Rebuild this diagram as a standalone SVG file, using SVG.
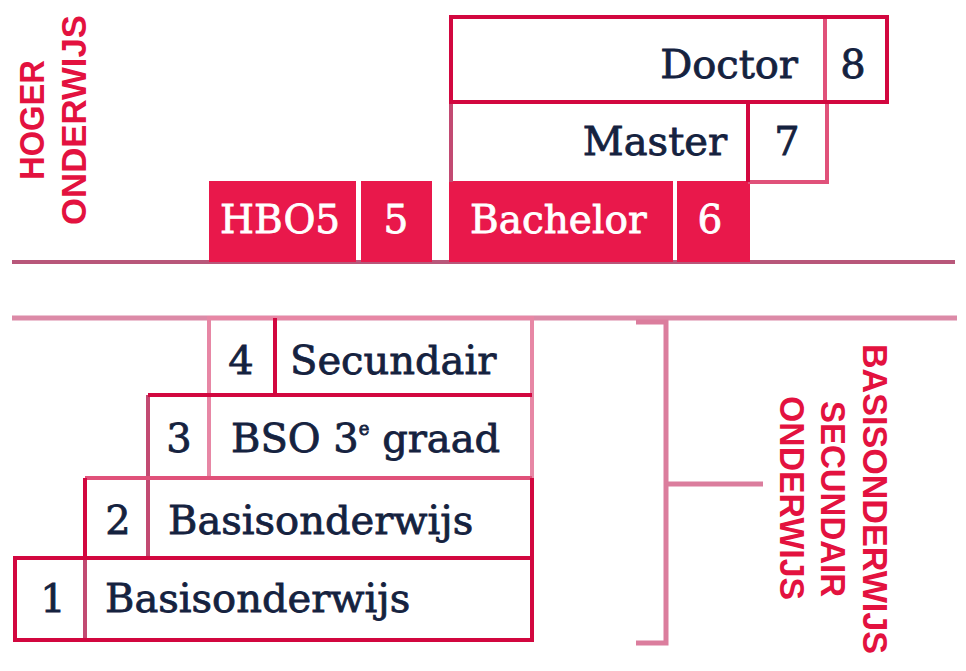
<svg xmlns="http://www.w3.org/2000/svg" width="966" height="671" viewBox="0 0 966 671">
<style>
.s{fill:none;stroke:#d2073f;stroke-width:4}
.m{fill:none;stroke:#e0517a;stroke-width:4}
.u{fill:none;stroke:#c24a72;stroke-width:4}
.p{fill:none;stroke:#e787a5;stroke-width:4}
.f{fill:#e9184b}
.t{font-family:"DejaVu Serif",serif;font-size:40px;fill:#15223f;stroke:#15223f;stroke-width:0.8}
.w{font-family:"DejaVu Serif",serif;font-size:39px;fill:#ffffff;stroke:#ffffff;stroke-width:0.8}
.v{font-family:"Liberation Sans",Arial,sans-serif;font-weight:bold;font-size:35px;fill:#e3123f}
</style>
<rect width="966" height="671" fill="#ffffff"/>
<g id="connectors">
<line x1="12" y1="262" x2="955" y2="262" stroke="#b8577a" stroke-width="4"/>
<line x1="12" y1="318" x2="957" y2="318" stroke="#dc8aa7" stroke-width="5"/>
<path d="M636,322 H666 V643 H636 M666,484 H763" fill="none" stroke="#db7d9d" stroke-width="5"/>
</g>
<g id="label-hoger">
<text class="v" transform="translate(44,120) rotate(-90)" text-anchor="middle" textLength="120" lengthAdjust="spacingAndGlyphs">HOGER</text>
<text class="v" transform="translate(86,120) rotate(-90)" text-anchor="middle" textLength="210" lengthAdjust="spacingAndGlyphs">ONDERWIJS</text>
</g>
<g id="label-basis">
<text class="v" transform="translate(863,499) rotate(90)" text-anchor="middle" textLength="310" lengthAdjust="spacingAndGlyphs">BASISONDERWIJS</text>
<text class="v" transform="translate(821,499) rotate(90)" text-anchor="middle" textLength="196" lengthAdjust="spacingAndGlyphs">SECUNDAIR</text>
<text class="v" transform="translate(780,498) rotate(90)" text-anchor="middle" textLength="204" lengthAdjust="spacingAndGlyphs">ONDERWIJS</text>
</g>
<g id="node-hbo5">
<rect class="f" x="209" y="181" width="147" height="81"/>
<text class="w" x="220" y="233">HBO5</text>
</g>
<g id="node-5">
<rect class="f" x="361" y="181" width="71" height="81"/>
<text class="w" x="396" y="233" text-anchor="middle">5</text>
</g>
<g id="node-bachelor">
<rect class="f" x="449" y="181" width="224" height="81"/>
<text class="w" x="470" y="233">Bachelor</text>
</g>
<g id="node-6">
<rect class="f" x="677" y="181" width="73" height="81"/>
<text class="w" x="710" y="233" text-anchor="middle">6</text>
</g>
<g id="node-master">
<line class="u" x1="451" y1="102" x2="451" y2="182"/>
<line class="m" x1="748" y1="182" x2="827" y2="182"/>
<line class="m" x1="827" y1="102" x2="827" y2="184"/>
<line class="s" x1="748" y1="102" x2="748" y2="182"/>
<text class="t" x="727" y="155" text-anchor="end">Master</text>
<text class="t" x="787" y="155" text-anchor="middle">7</text>
</g>
<g id="node-doctor">
<line class="m" x1="825" y1="17" x2="825" y2="102"/>
<rect class="s" x="451" y="17" width="436" height="85"/>
<text class="t" x="798" y="78" text-anchor="end">Doctor</text>
<text class="t" x="853" y="78" text-anchor="middle">8</text>
</g>
<g id="node-4">
<rect class="p" x="209" y="318" width="323" height="77"/>
<line class="s" x1="275" y1="318" x2="275" y2="395"/>
<text class="t" x="241" y="374" text-anchor="middle">4</text>
<text class="t" x="290" y="374">Secundair</text>
</g>
<g id="node-3">
<path class="u" d="M148,478 V395"/>
<path class="p" d="M532,395 V478"/>
<line class="p" x1="209" y1="395" x2="209" y2="478"/>
<line class="s" x1="148" y1="395" x2="532" y2="395"/>
<text class="t" x="179" y="452" text-anchor="middle">3</text>
<text class="t" x="231" y="452">BSO 3<tspan font-size="18" dy="-17">e</tspan><tspan dy="17"> graad</tspan></text>
</g>
<g id="node-2">
<line class="u" x1="148" y1="478" x2="148" y2="558"/>
<path class="m" d="M85,478 H532"/>
<path class="s" d="M85,478 V558 M532,478 V558"/>
<text class="t" x="118" y="534" text-anchor="middle">2</text>
<text class="t" x="168" y="534">Basisonderwijs</text>
</g>
<g id="node-1">
<line class="u" x1="85" y1="558" x2="85" y2="640"/>
<rect class="s" x="15" y="558" width="517" height="82"/>
<text class="t" x="53" y="612" text-anchor="middle">1</text>
<text class="t" x="105" y="612">Basisonderwijs</text>
</g>
</svg>
